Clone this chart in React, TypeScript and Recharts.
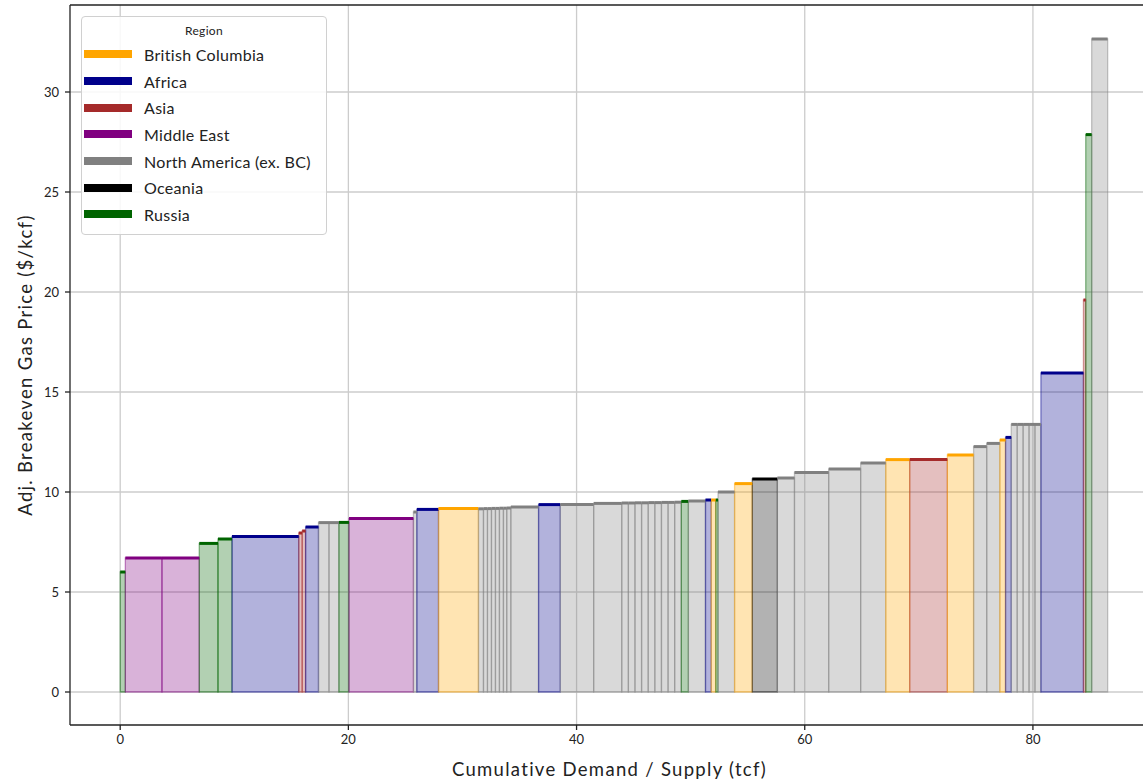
import React from "react";
import {
  ComposedChart,
  XAxis,
  YAxis,
  CartesianGrid,
  ReferenceArea,
  ReferenceLine,
  Line,
} from "recharts";

const regions = [
  "British Columbia",
  "Africa",
  "Asia",
  "Middle East",
  "North America (ex. BC)",
  "Oceania",
  "Russia",
];
const regionCodes = ["BC", "AF", "AS", "ME", "NA", "OC", "RU"];
const regionColors = ["#ffa500", "#00008b", "#a52a2a", "#800080", "#808080", "#000000", "#006400"];

// supply blocks in merit order (cheapest first)
const blockRegion = [
  "RU", "ME", "ME", "RU", "RU", "AF", "AS", "AS", "AF", "NA",
  "NA", "RU", "ME", "NA", "AF", "BC", "NA", "NA", "NA", "NA",
  "NA", "NA", "NA", "NA", "NA", "AF", "NA", "NA", "NA", "NA",
  "NA", "NA", "NA", "NA", "NA", "NA", "NA", "RU", "NA", "AF",
  "BC", "RU", "NA", "BC", "OC", "NA", "NA", "NA", "NA", "BC",
  "AS", "BC", "NA", "NA", "BC", "AF", "NA", "NA", "NA", "NA",
  "NA", "AF", "AS", "RU", "NA",
];
const blockVolume = [
  0.45, 3.21, 3.27, 1.64, 1.23, 5.85, 0.3, 0.3, 1.13, 0.92,
  0.87, 0.88, 5.65, 0.3, 1.9, 3.5, 0.44, 0.35, 0.35, 0.35,
  0.35, 0.35, 0.29, 0.36, 2.43, 1.9, 2.93, 2.46, 0.58, 0.58,
  0.58, 0.58, 0.58, 0.58, 0.58, 0.58, 0.58, 0.62, 1.5, 0.5,
  0.4, 0.2, 1.45, 1.55, 2.2, 1.5, 3.0, 2.8, 2.2, 2.1,
  3.3, 2.3, 1.15, 1.15, 0.5, 0.5, 0.52, 0.52, 0.52, 0.52,
  0.52, 3.73, 0.2, 0.52, 1.4,
];
const blockPrice = [
  6.0, 6.7, 6.7, 7.43, 7.65, 7.78, 7.95, 8.05, 8.25, 8.47,
  8.47, 8.48, 8.67, 9.0, 9.13, 9.18, 9.16, 9.17, 9.17, 9.18,
  9.18, 9.19, 9.19, 9.2, 9.25, 9.37, 9.38, 9.43, 9.45, 9.45,
  9.46, 9.46, 9.47, 9.47, 9.48, 9.48, 9.49, 9.53, 9.55, 9.6,
  9.6, 9.6, 10.0, 10.42, 10.65, 10.7, 10.98, 11.15, 11.45, 11.62,
  11.62, 11.85, 12.27, 12.43, 12.6, 12.73, 13.38, 13.38, 13.38, 13.38,
  13.38, 15.95, 19.6, 27.87, 32.65,
];

const xTicks = [0, 20, 40, 60, 80];
const yTicks = [0, 5, 10, 15, 20, 25, 30];

const X_DOMAIN: [number, number] = [-4.4, 90.7];
const Y_DOMAIN: [number, number] = [-1.65, 34.35];
const FONT = "Lato, 'DejaVu Sans', sans-serif";

let cum = 0;
const blocks = blockVolume.map((w, i) => {
  const x0 = cum;
  cum += w;
  const color = regionColors[regionCodes.indexOf(blockRegion[i])];
  return { x0, x1: cum, price: blockPrice[i], color };
});
const lineData = blocks.map((b) => ({ x: b.x1, price: b.price }));

function RegionLegend() {
  return (
    <div
      style={{
        position: "absolute",
        left: 81,
        top: 16,
        width: 244,
        height: 217,
        border: "1px solid #d0d0d0",
        borderRadius: 4,
        background: "rgba(255,255,255,0.85)",
        fontFamily: FONT,
        color: "#222",
      }}
    >
      <div style={{ textAlign: "center", fontSize: 12, marginTop: 6, height: 18, letterSpacing: 0.3 }}>
        Region
      </div>
      {regions.map((r, i) => (
        <div key={r} style={{ display: "flex", alignItems: "center", height: 26.7 }}>
          <div style={{ width: 48, height: 8, background: regionColors[i], marginLeft: 2 }} />
          <div style={{ marginLeft: 12, fontSize: 16, letterSpacing: 0.3 }}>{r}</div>
        </div>
      ))}
    </div>
  );
}

export default function App() {
  return (
    <div
      style={{
        position: "absolute",
        left: 0,
        top: 0,
        width: 1143,
        height: 782,
        overflow: "hidden",
        background: "#fff",
      }}
    >
      <ComposedChart
        width={1160}
        height={782}
        data={lineData}
        margin={{ top: 5, right: 5, left: 10, bottom: 0 }}
        style={{ fontFamily: FONT }}
      >
        <CartesianGrid stroke="#cccccc" strokeWidth={1.3} horizontalValues={yTicks} verticalValues={xTicks} />
        <XAxis
          dataKey="x"
          type="number"
          domain={X_DOMAIN}
          ticks={xTicks}
          allowDataOverflow
          height={57}
          tickSize={5}
          tickMargin={5}
          stroke="#222"
          strokeWidth={1.3}
          tick={{ fill: "#222", fontSize: 13 }}
          label={{
            value: "Cumulative Demand / Supply (tcf)",
            position: "insideBottom",
            offset: 6,
            dx: -3,
            style: { fill: "#222", fontSize: 18.5, letterSpacing: 1.3 },
          }}
        />
        <YAxis
          type="number"
          domain={Y_DOMAIN}
          ticks={yTicks}
          allowDataOverflow
          width={60}
          tickSize={5}
          tickMargin={6}
          stroke="#222"
          strokeWidth={1.3}
          tick={{ fill: "#222", fontSize: 13 }}
          label={{
            value: "Adj. Breakeven Gas Price ($/kcf)",
            angle: -90,
            position: "insideLeft",
            offset: 15,
            style: { fill: "#222", fontSize: 18.5, letterSpacing: 1.3, textAnchor: "middle" },
          }}
        />
        {blocks.map((b, i) => (
          <ReferenceArea
            key={`a${i}`}
            x1={b.x0}
            x2={b.x1}
            y1={0}
            y2={b.price}
            fill={b.color}
            fillOpacity={0.3}
            stroke={b.color}
            strokeOpacity={0.45}
            strokeWidth={1.3}
          />
        ))}
        {blocks.map((b, i) => (
          <ReferenceLine
            key={`l${i}`}
            segment={[
              { x: b.x0, y: b.price },
              { x: b.x1, y: b.price },
            ]}
            stroke={b.color}
            strokeWidth={3}
          />
        ))}
        <ReferenceLine y={Y_DOMAIN[1]} stroke="#222" strokeWidth={1.3} />
        <Line dataKey="price" stroke="none" dot={false} activeDot={false} isAnimationActive={false} />
      </ComposedChart>
      <RegionLegend />
    </div>
  );
}
